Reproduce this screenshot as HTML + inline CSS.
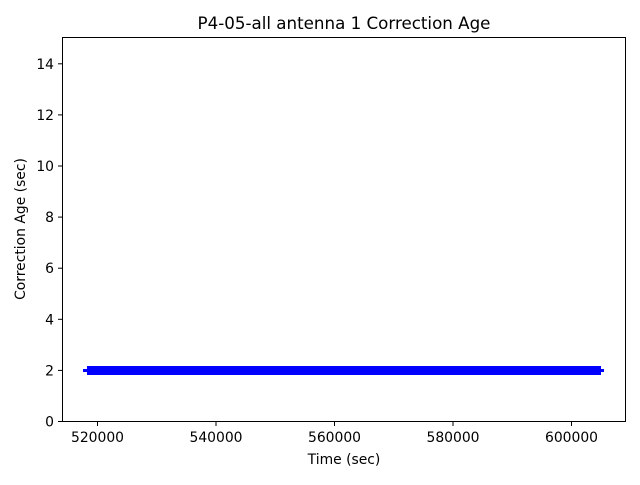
<!DOCTYPE html>
<html><head><style>body{margin:0;background:#fff}</style></head><body>
<svg width="640" height="480" xmlns="http://www.w3.org/2000/svg" font-family="DejaVu Sans, Liberation Sans, sans-serif">
<rect x="0" y="0" width="640" height="480" fill="#fff"/>
<rect x="83" y="369" width="21" height="3" fill="#0000ff"/>
<rect x="587" y="369" width="17" height="3" fill="#0000ff"/>
<rect x="87" y="366" width="514" height="9" fill="#0000ff"/>
<rect x="62.5" y="37.5" width="563" height="384" fill="none" stroke="#000" stroke-width="1"/>
<g stroke="#000" stroke-width="1">
<line x1="97.5" y1="422" x2="97.5" y2="426"/>
<line x1="216" y1="422" x2="216" y2="426"/>
<line x1="334.5" y1="422" x2="334.5" y2="426"/>
<line x1="453" y1="422" x2="453" y2="426"/>
<line x1="571.5" y1="422" x2="571.5" y2="426"/>
<line x1="58" y1="421.5" x2="62.5" y2="421.5"/>
<line x1="58" y1="370.4" x2="62.5" y2="370.4"/>
<line x1="58" y1="319.3" x2="62.5" y2="319.3"/>
<line x1="58" y1="268.2" x2="62.5" y2="268.2"/>
<line x1="58" y1="217.1" x2="62.5" y2="217.1"/>
<line x1="58" y1="166" x2="62.5" y2="166"/>
<line x1="58" y1="114.9" x2="62.5" y2="114.9"/>
<line x1="58" y1="63.8" x2="62.5" y2="63.8"/>
</g>
<g font-size="13.9" text-anchor="middle" fill="#000">
<text x="97.5" y="442">520000</text>
<text x="216" y="442">540000</text>
<text x="334.5" y="442">560000</text>
<text x="453" y="442">580000</text>
<text x="571.5" y="442">600000</text>
</g>
<g font-size="13.9" text-anchor="end" fill="#000">
<text x="54" y="426.5">0</text>
<text x="54" y="375.4">2</text>
<text x="54" y="324.3">4</text>
<text x="54" y="273.2">6</text>
<text x="54" y="222.1">8</text>
<text x="54" y="171">10</text>
<text x="54" y="119.9">12</text>
<text x="54" y="68.8">14</text>
</g>
<text x="344" y="464" font-size="13.9" text-anchor="middle">Time (sec)</text>
<text transform="translate(25,229) rotate(-90)" font-size="13.9" text-anchor="middle">Correction Age (sec)</text>
<text x="344" y="29" font-size="16.7" text-anchor="middle">P4-05-all antenna 1 Correction Age</text>
</svg>
</body></html>
